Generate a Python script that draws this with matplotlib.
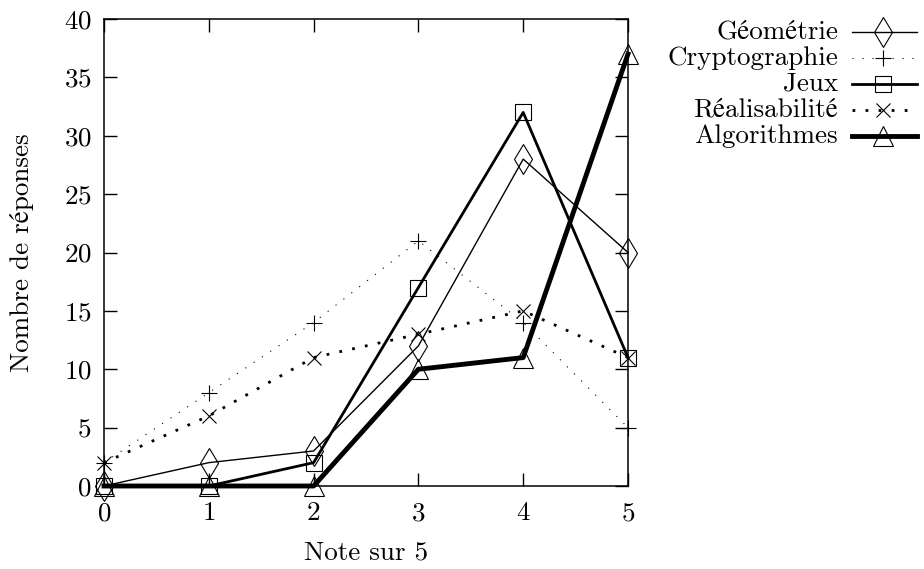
import matplotlib.pyplot as plt
from matplotlib.lines import Line2D

# ========= données =========
notes = [0, 1, 2, 3, 4, 5]
geometrie = [0, 2, 3, 12, 28, 20]
cryptographie = [2, 8, 14, 21, 14, 5]
jeux = [0, 0, 2, 17, 32, 11]
realisabilite = [2, 6, 11, 13, 15, 11]
algorithmes = [0, 0, 0, 10, 11, 37]
labels = ["Géométrie", "Cryptographie", "Jeux", "Réalisabilité", "Algorithmes"]

FS = 19.5
plt.rcParams["font.family"] = ["cmr10", "STIXGeneral"]
plt.rcParams["axes.formatter.use_mathtext"] = True
plt.rcParams["font.size"] = FS

# ========= styles =========
styles = [
    dict(color="black", lw=1.0, ls="-", marker="d", ms=15),
    dict(color="black", lw=0.8, ls=(0, (1, 8)), marker="+", ms=12),
    dict(color="black", lw=2.0, ls="-", marker="s", ms=12),
    dict(color="black", lw=2.0, ls=(0, (1, 3.7)), marker="x", ms=10),
    dict(color="black", lw=3.5, ls="-", marker="^", ms=14),
]
series = [geometrie, cryptographie, jeux, realisabilite, algorithmes]

fig = plt.figure(figsize=(9.24, 5.69), dpi=100)
ax = fig.add_axes([104 / 924, 83 / 569, 524 / 924, 467 / 569])

for ys, st in zip(series, styles):
    ax.plot(notes, ys, color=st["color"], lw=st["lw"], ls=st["ls"],
            marker=st["marker"], ms=st["ms"], mfc="none", mec="black",
            mew=0.8, clip_on=False)

ax.set_xlim(0, 5)
ax.set_ylim(0, 40)
ax.set_xticks(notes)
ax.set_yticks(range(0, 41, 5))
ax.tick_params(direction="in", length=9.5, width=1, top=True, right=True,
               labelsize=FS)
ax.tick_params(axis="x", pad=11)
ax.tick_params(axis="y", pad=9)
for s in ax.spines.values():
    s.set_linewidth(1.1)
ax.set_xlabel("Note sur 5", fontsize=FS, labelpad=11)
ax.set_ylabel("Nombre de réponses", fontsize=FS, labelpad=21)

# ========= légende (texte à droite, échantillon à gauche) =========
y0 = (569 - 32) / 569
dy = 26 / 569
for i, (lab, st) in enumerate(zip(labels, styles)):
    y = y0 - i * dy
    fig.text(838 / 924, y, lab, ha="right", va="center", fontsize=FS)
    fig.add_artist(Line2D([852 / 924, 883 / 924, 917 / 924], [y, y, y],
                          transform=fig.transFigure, color="black",
                          lw=st["lw"], ls=st["ls"], marker=st["marker"],
                          ms=st["ms"], mfc="none", mec="black", mew=0.8,
                          markevery=[1]))

fig.savefig("out.png", dpi=100)
